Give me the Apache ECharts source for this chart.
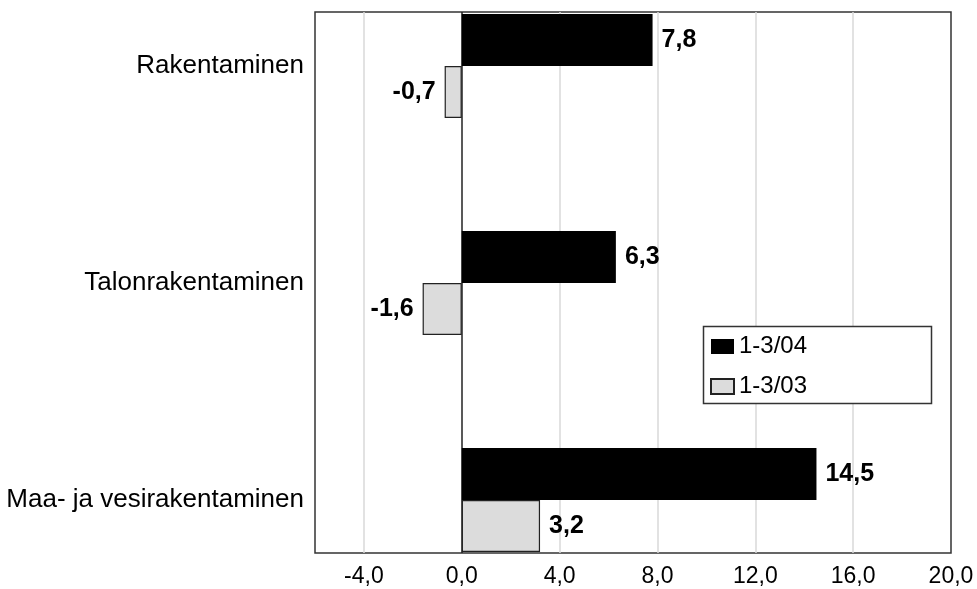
<!DOCTYPE html>
<html>
<head>
<meta charset="utf-8">
<script src="https://cdn.jsdelivr.net/npm/echarts@6/dist/echarts.min.js"></script>
<style>
html,body{margin:0;padding:0;background:#fff;}
#chart{width:977px;height:589px;}
</style>
</head>
<body>
<div id="chart"></div>
<script>
const categories = ['Rakentaminen', 'Talonrakentaminen', 'Maa- ja vesirakentaminen'];
const seriesNames = ['1-3/04', '1-3/03'];
const values04 = [7.8, 6.3, 14.5];
const values03 = [-0.7, -1.6, 3.2];
const xTicks = [-4, 0, 4, 8, 12, 16, 20];
const xMin = -6, xMax = 20;

const FONT = 'Liberation Sans, Arial, sans-serif';
const fmt = v => v.toFixed(1).replace('.', ',');

function items(vals) {
  return vals.map(v => ({
    value: v,
    label: { position: v < 0 ? 'left' : 'right' }
  }));
}

const chart = echarts.init(document.getElementById('chart'));
chart.setOption({
  animation: false,
  backgroundColor: '#fff',
  textStyle: { fontFamily: FONT },
  grid: [
    { left: 315, right: 26, top: 12, bottom: 36, show: true, borderColor: '#333', borderWidth: 1.5, backgroundColor: 'transparent', outerBoundsMode: 'none', containLabel: false },
    { left: 315, right: 26, top: -42.5, height: 651, outerBoundsMode: 'none', containLabel: false }
  ],
  xAxis: [
    {
      gridIndex: 0, type: 'value', min: xMin, max: xMax, interval: 2,
      axisLine: { show: false }, axisTick: { show: false }, splitLine: { show: false },
      axisLabel: {
        margin: 12, color: '#000', fontSize: 23, fontFamily: FONT,
        formatter: v => xTicks.indexOf(v) >= 0 ? fmt(v) : ''
      }
    },
    {
      gridIndex: 1, type: 'value', min: xMin, max: xMax, show: false,
      splitLine: { show: false }
    }
  ],
  yAxis: [
    { gridIndex: 0, type: 'value', min: 0, max: 1, show: false, splitLine: { show: false } },
    {
      gridIndex: 1, type: 'category', data: categories, inverse: true,
      axisLine: { show: false }, axisTick: { show: false }, splitLine: { show: false },
      axisLabel: { margin: 11, color: '#000', fontSize: 26, fontFamily: FONT }
    }
  ],
  legend: {
    orient: 'vertical', left: 710, top: 334.5, padding: 0, itemGap: 16,
    itemWidth: 23, itemHeight: 15, z: 10, icon: 'rect',
    textStyle: { fontSize: 24, lineHeight: 24, color: '#000', fontFamily: FONT },
    data: seriesNames
  },
  graphic: [{
    type: 'rect', z: 8,
    shape: { x: 703.5, y: 326.5, width: 228, height: 77 },
    style: { fill: '#fff', stroke: '#333', lineWidth: 1.5 }
  }],
  series: [
    {
      type: 'line', xAxisIndex: 0, yAxisIndex: 0, data: [], z: 1, silent: true,
      markLine: {
        silent: true, symbol: 'none', animation: false, z: 1,
        label: { show: false },
        data: xTicks.filter(v => v !== 0 && v !== xMax).map(v => ({ xAxis: v, lineStyle: { color: '#d9d9d9', width: 1.5, type: 'solid' } }))
          .concat([{ xAxis: 0, lineStyle: { color: '#222', width: 1.5, type: 'solid' } }])
      }
    },
    {
      name: seriesNames[0], type: 'bar', xAxisIndex: 1, yAxisIndex: 1, z: 4,
      barWidth: 52, barGap: '0%',
      itemStyle: { color: '#000' },
      label: { show: true, distance: 9, color: '#000', fontWeight: 'bold', fontSize: 25, fontFamily: FONT, formatter: p => fmt(p.value) },
      data: items(values04)
    },
    {
      name: seriesNames[1], type: 'bar', xAxisIndex: 1, yAxisIndex: 1, z: 4,
      barWidth: 52, barGap: '0%',
      itemStyle: { color: '#dcdcdc', borderColor: '#222', borderWidth: 1.2 },
      label: { show: true, distance: 9, color: '#000', fontWeight: 'bold', fontSize: 25, fontFamily: FONT, formatter: p => fmt(p.value) },
      data: items(values03)
    }
  ]
});
</script>
</body>
</html>
